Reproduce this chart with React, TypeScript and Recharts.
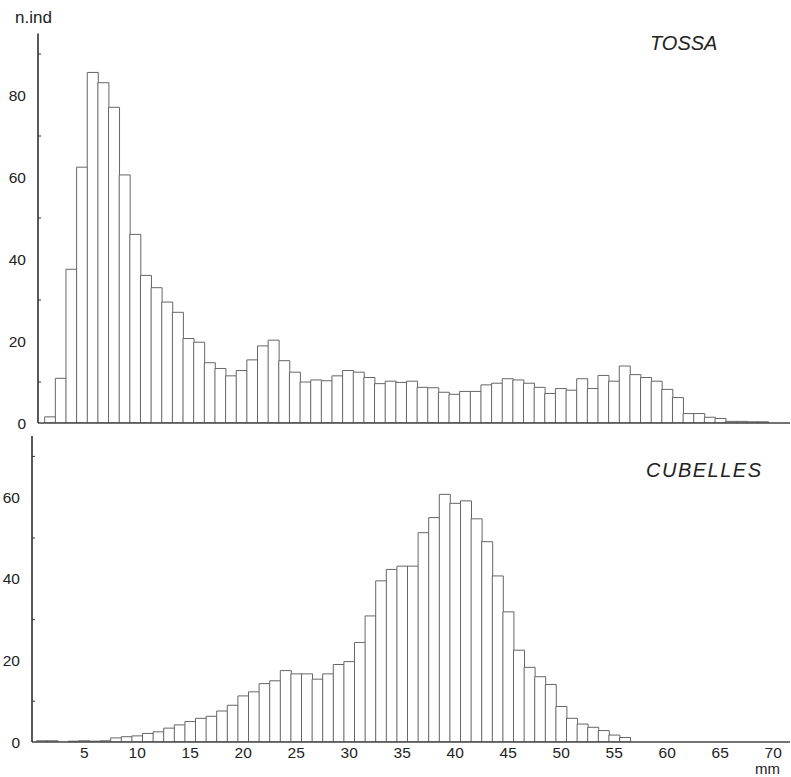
import { BarChart, Bar, XAxis, YAxis } from 'recharts';

// size classes in mm (one bar per class)
const mm = [
  1, 2, 3, 4, 5, 6, 7, 8, 9, 10, 11, 12, 13, 14, 15, 16, 17, 18, 19, 20,
  21, 22, 23, 24, 25, 26, 27, 28, 29, 30, 31, 32, 33, 34, 35, 36, 37, 38, 39, 40,
  41, 42, 43, 44, 45, 46, 47, 48, 49, 50, 51, 52, 53, 54, 55, 56, 57, 58, 59, 60,
  61, 62, 63, 64, 65, 66, 67, 68, 69, 70,
];

const tossa = [
  1.5, 10.9, 37.5, 62.4, 85.5, 83, 77, 60.5, 46, 36, 33, 29.5, 27, 20.6, 19.7, 14.7, 13.3, 11.5, 12.8, 15.4,
  18.8, 20.2, 15.2, 12.4, 10.0, 10.5, 10.3, 11.5, 12.8, 12.4, 11.1, 9.6, 10.2, 9.9, 10.2, 8.7, 8.6, 7.5, 7.0, 7.7,
  7.7, 9.3, 9.7, 10.8, 10.5, 9.7, 8.7, 7.2, 8.4, 8.0, 10.8, 8.4, 11.6, 10.2, 13.9, 11.8, 11.1, 10.2, 8.2, 6.2,
  2.3, 2.3, 1.4, 1.1, 0.4, 0.4, 0.3, 0.3, 0, 0,
];

const cubelles = [
  0.3, 0.3, 0, 0.2, 0.3, 0.2, 0.3, 1.0, 1.3, 1.5, 2.1, 2.5, 3.4, 4.2, 5.0, 5.8, 6.3, 7.6, 9.0, 11.3,
  12.3, 14.3, 15.0, 17.5, 16.7, 16.7, 15.4, 16.7, 19.0, 19.7, 24.4, 30.9, 39.5, 42.3, 43.1, 43.1, 51.3, 55.0, 60.7, 58.5,
  59.1, 54.7, 49.1, 40.7, 31.9, 22.5, 18.3, 16.0, 14.1, 8.7, 5.8, 4.4, 3.6, 2.8, 1.7, 1.1, 0, 0, 0, 0,
  0, 0, 0, 0, 0, 0, 0, 0, 0, 0,
];

const topTicks = [0, 10, 20, 30, 40, 50, 60, 70, 80, 90];
const bottomTicks = [0, 10, 20, 30, 40, 50, 60, 70];
const xLabels = [5, 10, 15, 20, 25, 30, 35, 40, 45, 50, 55, 60, 65, 70];

const FONT = '"Liberation Sans", Arial, sans-serif';

const topData = mm.map((m, i) => ({ mm: m, n: tossa[i] }));
const bottomData = mm.map((m, i) => ({ mm: m, n: cubelles[i] }));

const YTick = (props: any) => {
  const { x, y, payload } = props;
  const v = payload.value;
  if (v % 20 === 0) {
    return (
      <text x={x} y={y} dy={5.5} textAnchor="end" fontSize={15.5} fill="#222" fontFamily={FONT}>
        {v}
      </text>
    );
  }
  return <line x1={x + 12} x2={x + 15} y1={y} y2={y} stroke="#333" strokeWidth={1} />;
};

const XTick = (props: any) => {
  const { x, y, payload } = props;
  const v = payload.value;
  if (!xLabels.includes(v)) return null;
  return (
    <text x={x} y={y} dy={12} textAnchor="middle" fontSize={15.5} fill="#222" fontFamily={FONT}>
      {v}
    </text>
  );
};

const abs = (left: number, top: number, extra: any = {}) => ({
  position: 'absolute' as const,
  left,
  top,
  fontFamily: FONT,
  color: '#222',
  lineHeight: 1,
  whiteSpace: 'nowrap' as const,
  ...extra,
});

export default function App() {
  return (
    <div style={{ position: 'absolute', left: 0, top: 0, width: 791, height: 777, background: '#fff' }}>
      {/* TOSSA */}
      <div style={{ position: 'absolute', left: 0, top: 0 }}>
        <BarChart
          width={791}
          height={440}
          data={topData}
          margin={{ top: 33.5, right: 1, bottom: 0, left: 0 }}
          barCategoryGap={0}
          barGap={0}
        >
          <XAxis
            dataKey="mm"
            height={17}
            tick={false}
            tickLine={false}
            padding={{ left: 6.7, right: 0.5 }}
            axisLine={{ stroke: '#444', strokeWidth: 1.5 }}
          />
          <YAxis
            width={38}
            domain={[0, 95]}
            ticks={topTicks}
            tick={<YTick />}
            tickSize={0}
            tickMargin={12}
            tickLine={false}
            allowDataOverflow
            axisLine={{ stroke: '#222', strokeWidth: 1.5 }}
          />
          <Bar dataKey="n" fill="#fff" stroke="#666" strokeWidth={1} isAnimationActive={false} />
        </BarChart>
      </div>

      {/* CUBELLES */}
      <div style={{ position: 'absolute', left: 0, top: 0 }}>
        <BarChart
          width={791}
          height={777}
          data={bottomData}
          margin={{ top: 436, right: 1, bottom: 0, left: 0 }}
          barCategoryGap={0}
          barGap={0}
        >
          <XAxis
            dataKey="mm"
            height={35}
            interval={0}
            tick={<XTick />}
            tickSize={0}
            tickMargin={4}
            tickLine={false}
            padding={{ left: 4.5, right: 11.5 }}
            axisLine={{ stroke: '#444', strokeWidth: 1.5 }}
          />
          <YAxis
            width={32}
            domain={[0, 75]}
            ticks={bottomTicks}
            tick={<YTick />}
            tickSize={0}
            tickMargin={12}
            tickLine={false}
            allowDataOverflow
            axisLine={{ stroke: '#222', strokeWidth: 1.5 }}
          />
          <Bar dataKey="n" fill="#fff" stroke="#666" strokeWidth={1} isAnimationActive={false} />
        </BarChart>
      </div>

      <div style={abs(15, 9, { fontSize: 17 })}>n.ind</div>
      <div style={abs(650, 33, { fontSize: 20, fontStyle: 'italic' })}>TOSSA</div>
      <div style={abs(646, 460, { fontSize: 20, fontStyle: 'italic', letterSpacing: 1.5 })}>CUBELLES</div>
      <div style={abs(755, 761, { fontSize: 15 })}>mm</div>
    </div>
  );
}
